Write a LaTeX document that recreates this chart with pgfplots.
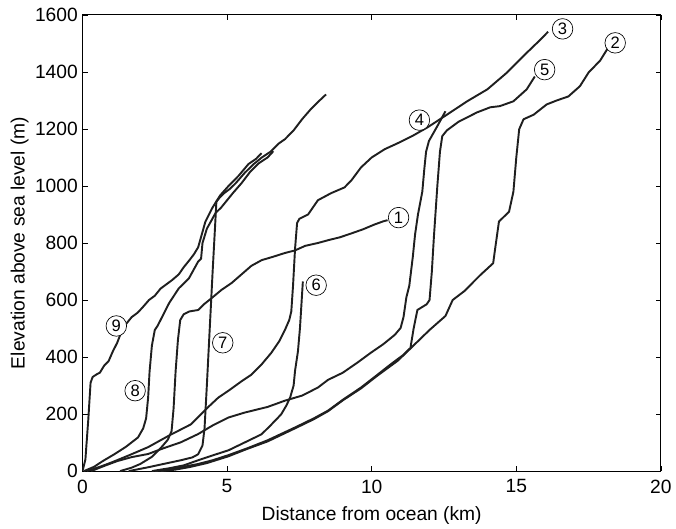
\documentclass[border=0pt]{standalone}
\usepackage{fontspec}
\setmainfont{Liberation Sans}
\usepackage{pgfplots}
\pgfplotsset{compat=1.18}
\tikzset{lab/.style={circle, draw, line width=0.5pt, fill=white, inner sep=0pt,
    minimum size=15.5pt, font=\fontsize{12.5}{12.5}\selectfont}}
\begin{document}
\begin{tikzpicture}
\begin{axis}[
  at={(0,0)}, anchor=south west,
  scale only axis, width=436.5pt, height=344.25pt,
  xmin=0, xmax=20, ymin=0, ymax=1600,
  xtick={0,5,...,20}, ytick={0,200,...,1600},
  tick style={black, line width=0.6pt}, major tick length=4pt,
  axis line style={line width=0.8pt},
  tick label style={font=\fontsize{14.5}{16}\selectfont},
  xticklabel style={yshift=-3pt},
  /pgf/number format/assume math mode=true,
  /pgf/number format/1000 sep={},
  label style={font=\fontsize{14.5}{16}\selectfont},
  xlabel={Distance from ocean (km)},
  ylabel={Elevation above sea level (m)},
  xlabel style={yshift=-3pt},
  ylabel style={yshift=-2pt},
  cycle list={{solid}},
  every axis plot post/.append style={line width=1.45pt, color=black!88, solid, mark=none, line join=round},
]
% profile 9
\addplot coordinates {(0,0) (0.1,40) (0.2,180) (0.28,310) (0.35,330) (0.5,340) (0.6,345)
  (0.75,370) (0.9,385) (1.05,420) (1.2,450) (1.35,490) (1.5,515) (1.7,540) (1.9,555)
  (2.06,572) (2.3,600) (2.5,615) (2.7,640) (2.9,655) (3.1,670) (3.33,690) (3.5,715)
  (3.7,740) (3.85,760) (4.0,785) (4.25,875) (4.5,925) (4.76,967) (5.05,1000) (5.4,1036)
  (5.74,1077) (6.0,1095) (6.19,1115)};
% profile 8
\addplot coordinates {(0.05,0) (0.4,15) (0.7,35) (1.1,59) (1.5,85) (1.92,118) (2.1,150)
  (2.2,185) (2.27,258) (2.32,350) (2.4,440) (2.5,495) (2.6,510) (2.8,550) (3.0,590)
  (3.33,641) (3.68,676) (4.0,735) (4.1,745) (4.15,800) (4.3,850) (4.6,905) (4.8,925)
  (5.0,950) (5.2,975) (5.5,1010) (5.8,1050) (6.1,1080) (6.4,1100) (6.6,1122)};
% profile 7
\addplot coordinates {(1.6,0) (2.0,8) (2.3,14) (2.8,25) (3.4,38) (3.8,48) (4.0,59)
  (4.15,90) (4.22,150) (4.3,300) (4.4,500) (4.5,700) (4.58,850) (4.63,945) (4.75,960)
  (4.9,975) (5.1,990) (5.3,1010) (5.6,1045) (5.9,1075) (6.2,1100) (6.5,1120) (6.8,1150)
  (7.0,1164) (7.3,1195) (7.6,1235) (7.9,1270) (8.2,1300) (8.42,1321)};
% profile 1
\addplot coordinates {(1.3,0) (1.7,12) (2.0,25) (2.4,50) (2.7,80) (2.95,110) (3.08,140)
  (3.15,220) (3.22,350) (3.3,460) (3.38,530) (3.5,550) (3.7,560) (4.0,565) (4.2,585)
  (4.47,607) (4.8,635) (5.16,660) (5.5,690) (5.84,720) (6.2,740) (6.6,752) (7.0,765)
  (7.35,774) (7.7,790) (8.14,800) (8.5,810) (8.9,820) (9.28,833) (9.7,848) (10.1,865)
  (10.4,876) (10.55,880)};
% profile 3
\addplot coordinates {(0.15,0) (0.6,15) (1.0,30) (1.6,55) (2.27,84) (3.0,125) (3.75,164)
  (4.33,223) (4.7,258) (5.05,282) (5.5,315) (5.84,338) (6.2,375) (6.53,415) (6.8,455)
  (7.0,495) (7.15,530) (7.22,560) (7.28,650) (7.35,780) (7.42,870) (7.5,885) (7.8,900)
  (8.14,950) (8.6,975) (9.06,995) (9.3,1020) (9.63,1065) (10.0,1100) (10.45,1129)
  (10.9,1150) (11.4,1175) (11.92,1205) (12.3,1230) (12.6,1250) (13.3,1297) (14.0,1339)
  (14.67,1397) (15.36,1467) (15.8,1510) (16.1,1541)};
% profile 4
\addplot coordinates {(0.3,0) (0.8,20) (1.2,35) (1.7,49) (2.27,60) (2.8,80) (3.4,101)
  (4.0,130) (4.5,160) (5.05,188) (5.6,205) (6.4,225) (7.0,247) (7.6,265) (8.14,293)
  (8.49,320) (9.0,345) (9.5,380) (9.97,415) (10.4,445) (10.8,478) (11.0,502) (11.1,540)
  (11.2,610) (11.3,650) (11.42,750) (11.5,830) (11.6,900) (11.75,980) (11.82,1060)
  (11.88,1120) (11.98,1158) (12.27,1210) (12.55,1262)};
% profile 5
\addplot coordinates {(2.5,0) (3.0,5) (3.5,15) (4.0,25) (4.5,38) (5.05,56) (5.7,80)
  (6.4,108) (7.35,153) (8.0,185) (8.49,212) (9.0,250) (9.63,293) (10.2,338) (10.6,370)
  (11.1,408) (11.34,432) (11.45,500) (11.58,565) (11.9,585) (12.0,600) (12.08,700)
  (12.15,820) (12.27,1000) (12.36,1120) (12.44,1175) (12.6,1195) (13.0,1225)
  (13.64,1258) (14.1,1276) (14.43,1280) (14.9,1297) (15.36,1339) (15.64,1384)};
% profile 2
\addplot coordinates {(2.7,0) (3.2,5) (3.7,14) (4.3,28) (5.05,52) (5.7,78) (6.4,104)
  (7.35,150) (8.0,182) (8.49,210) (9.0,248) (9.63,290) (10.2,335) (10.9,387)
  (11.34,430) (12.0,495) (12.55,544) (12.8,600) (13.2,631) (13.75,687) (14.2,729)
  (14.27,781) (14.4,875) (14.75,910) (14.9,980) (15.0,1100) (15.1,1199) (15.25,1234)
  (15.6,1250) (16.05,1286) (16.4,1300) (16.8,1314) (17.2,1350) (17.5,1398) (17.9,1440)
  (18.2,1489)};
% profile 6
\addplot coordinates {(2.4,0) (3.0,10) (3.5,20) (4.0,38) (4.5,55) (5.05,73) (5.6,100)
  (6.19,129) (6.5,160) (6.87,199) (7.05,230) (7.18,258) (7.3,300) (7.35,352) (7.45,420)
  (7.52,502) (7.58,600) (7.62,665)};
\node[lab] at (axis cs:10.93,889) {1};
\node[lab] at (axis cs:18.42,1502) {2};
\node[lab] at (axis cs:16.6,1551) {3};
\node[lab] at (axis cs:11.65,1231) {4};
\node[lab] at (axis cs:15.98,1408) {5};
\node[lab] at (axis cs:8.08,652) {6};
\node[lab] at (axis cs:4.85,450) {7};
\node[lab] at (axis cs:1.82,282) {8};
\node[lab] at (axis cs:1.17,509) {9};
\end{axis}
\path (-62.25pt,-38.25pt) rectangle (444.75pt,355.5pt);
\end{tikzpicture}
\end{document}
